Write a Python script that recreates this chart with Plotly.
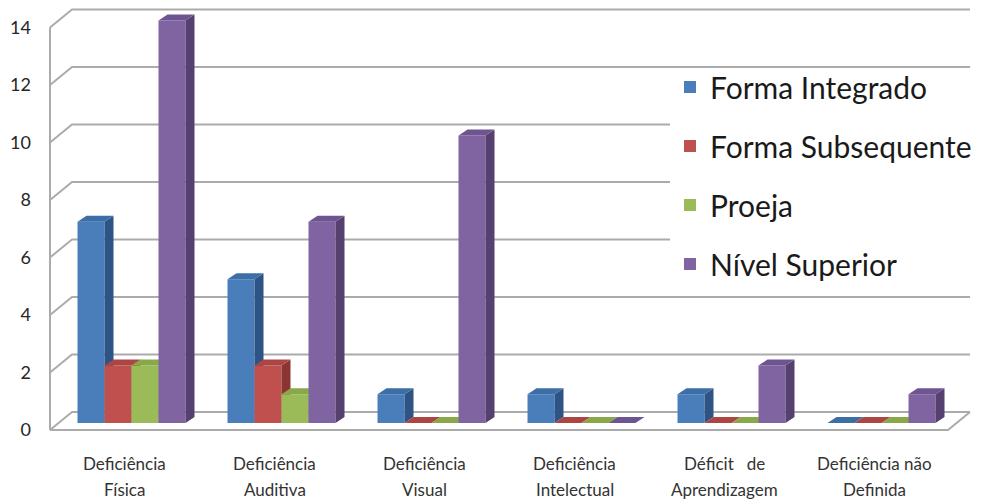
import plotly.graph_objects as go

# ---------------- data ----------------
categories = ["Deficiência<br>Física", "Deficiência<br>Auditiva", "Deficiência<br>Visual",
              "Deficiência<br>Intelectual", "Déficit\u00a0\u00a0\u00a0de<br>Aprendizagem",
              "Deficiência não<br>Definida"]
series_names = ["Forma Integrado", "Forma Subsequente", "Proeja", "Nível Superior"]
forma_integrado = [7, 5, 1, 1, 1, 0]
forma_subsequente = [2, 2, 0, 0, 0, 0]
proeja = [2, 1, 0, 0, 0, 0]
nivel_superior = [14, 7, 10, 0, 2, 1]
y_ticks = [0, 2, 4, 6, 8, 10, 12, 14]

series_values = [forma_integrado, forma_subsequente, proeja, nivel_superior]

# ---------------- styles ----------------
front_colors = ["#4A7EBB", "#C0504D", "#9BBB59", "#8064A2"]
side_colors = ["#2E5485", "#8A3532", "#6C8637", "#56406F"]
top_colors = ["#3C6EA8", "#AD4542", "#88A84A", "#6E5591"]
GRID = "#ABABAB"
FONT = "Lato"

W, H = 982, 500
ML, MR, MT, MB = 50, 12, 5, 60
PW, PH = W - ML - MR, H - MT - MB
X_PX_UNIT = 150.0
Y_PX_UNIT = 28.75
X0_PX_CAT = 131.5 - ML           # pixel (in plot area) of first category
WALL_ZERO_PX = 430 - MT          # pixel of front-wall 0
BAR_ZERO_PX = 423 - MT           # pixel of bar front 0

x_range = [-X0_PX_CAT / X_PX_UNIT, (PW - X0_PX_CAT) / X_PX_UNIT]
y_range = [(WALL_ZERO_PX - PH) / Y_PX_UNIT, WALL_ZERO_PX / Y_PX_UNIT]
y2_range = [(BAR_ZERO_PX - PH) / Y_PX_UNIT, BAR_ZERO_PX / Y_PX_UNIT]

BAR_W = 0.18
offsets = [-0.36, -0.18, 0.0, 0.18]
bar_dx = 9 / X_PX_UNIT
bar_dy = 6 / Y_PX_UNIT
wall_dx_paper = 22 / PW
wall_dy = 18 / Y_PX_UNIT


def paper_y(px):
    return (PH + MT - px) / PH


fig = go.Figure()

xs = list(range(len(categories)))
for k, (name, vals) in enumerate(zip(series_names, series_values)):
    fig.add_trace(go.Bar(
        x=xs, y=vals, width=BAR_W, offset=offsets[k], name=name,
        marker=dict(color=front_colors[k], line=dict(width=0)),
        yaxis="y2", zorder=2 * k, legendgroup=name, showlegend=True,
    ))
    sx, sy, tx, ty = [], [], [], []
    for i, v in zip(xs, vals):
        xl = i + offsets[k]
        xr = xl + BAR_W
        sx += [xr, xr, xr + bar_dx, xr + bar_dx, xr, None]
        sy += [0, v, v + bar_dy, bar_dy, 0, None]
        tx += [xl, xr, xr + bar_dx, xl + bar_dx, xl, None]
        ty += [v, v, v + bar_dy, v + bar_dy, v, None]
    fig.add_trace(go.Scatter(x=sx, y=sy, mode="lines", fill="toself",
                             fillcolor=side_colors[k], line=dict(width=0, color=side_colors[k]),
                             yaxis="y2", zorder=2 * k + 1, showlegend=False,
                             hoverinfo="skip", legendgroup=name))
    fig.add_trace(go.Scatter(x=tx, y=ty, mode="lines", fill="toself",
                             fillcolor=top_colors[k], line=dict(width=0, color=top_colors[k]),
                             yaxis="y2", zorder=2 * k + 1, showlegend=False,
                             hoverinfo="skip", legendgroup=name))

shapes = []
# grid lines (3D: front diagonal then back horizontal)
for v in y_ticks:
    shapes.append(dict(type="path", xref="paper", yref="y", layer="below",
                       path=f"M 0,{v} L {wall_dx_paper},{v + wall_dy} L 1,{v + wall_dy}",
                       line=dict(color=GRID, width=2)))
# left wall front edge
shapes.append(dict(type="line", xref="paper", yref="y", layer="below",
                   x0=0, x1=0, y0=y_ticks[0], y1=y_ticks[-1], line=dict(color=GRID, width=2)))
# floor front edge and right edge
shapes.append(dict(type="path", xref="paper", yref="y", layer="below",
                   path=f"M 0,{y_ticks[0]} L {1 - wall_dx_paper},{y_ticks[0]} L 1,{y_ticks[0] + wall_dy}",
                   line=dict(color=GRID, width=2)))
# white legend area covering grid lines
shapes.append(dict(type="rect", xref="paper", yref="paper", layer="below",
                   x0=(670 - ML) / PW, x1=1, y0=paper_y(290), y1=paper_y(73),
                   fillcolor="white", line=dict(width=0)))

annotations = []
for i, cat in enumerate(categories):
    lines = cat.split("<br>")
    for j, line in enumerate(lines):
        annotations.append(dict(x=i, xref="x", y=0, yref="paper", yanchor="middle",
                                xshift=-7, yshift=-(23 + 26 * j), text=line, showarrow=False,
                                font=dict(family=FONT, size=17, color="#333333")))

fig.update_layout(
    width=W, height=H,
    margin=dict(l=ML, r=MR, t=MT, b=MB, autoexpand=False),
    paper_bgcolor="white", plot_bgcolor="white",
    barmode="overlay",
    showlegend=True,
    xaxis=dict(range=x_range, showticklabels=False, showgrid=False, zeroline=False,
               showline=False, fixedrange=True),
    yaxis=dict(range=y_range, tickvals=y_ticks, ticktext=[str(t) for t in y_ticks],
               showgrid=False, zeroline=False, showline=False, ticks="",
               ticklabelstandoff=18,
               tickfont=dict(family=FONT, size=18, color="#262626")),
    yaxis2=dict(range=y2_range, overlaying="y", visible=False),
    legend=dict(x=(670 - ML) / PW, xanchor="left", y=paper_y(61), yanchor="top",
                bgcolor="rgba(0,0,0,0)", borderwidth=0, tracegroupgap=17,
                font=dict(family=FONT, size=30, color="#1a1a1a")),
    shapes=shapes,
    annotations=annotations,
    hovermode=False,
)

fig.write_html("out.html")
